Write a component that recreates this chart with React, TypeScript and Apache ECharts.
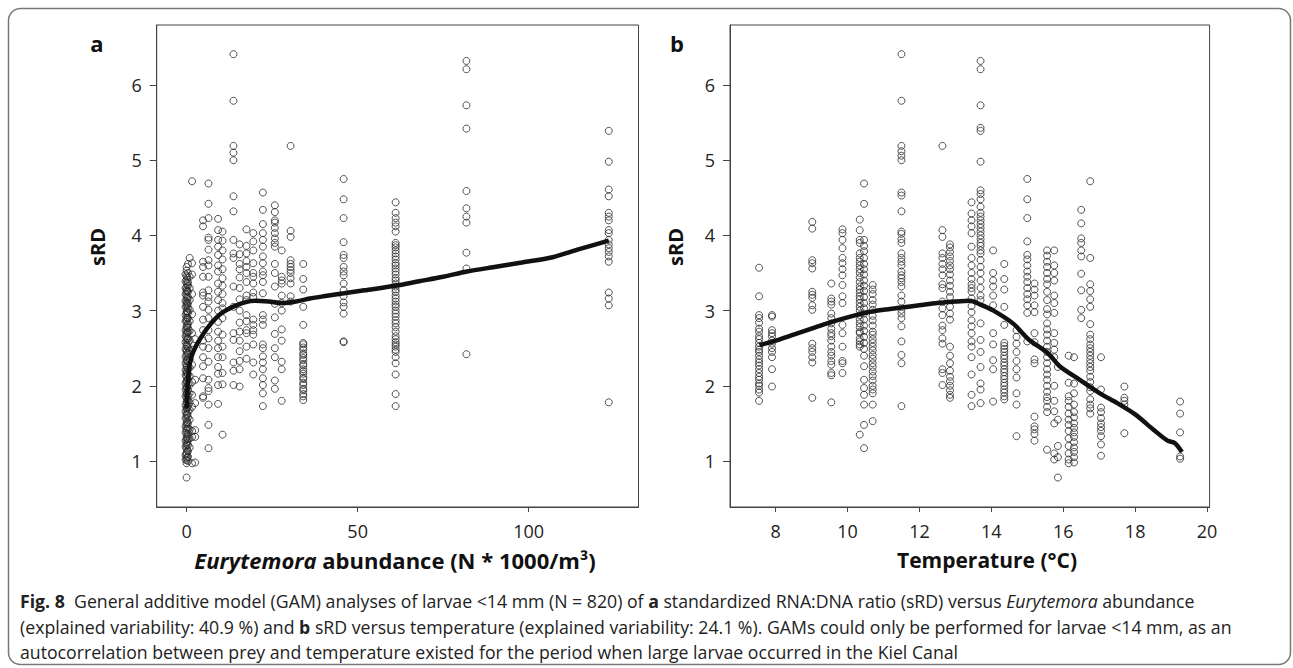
import React, { useEffect, useRef } from "react";
import * as echarts from "echarts";

// ---------- Panel a: sRD vs Eurytemora abundance ----------
const abundanceColumns = [-0.3, 0, 0.25, 0.4, 0.9, 1.6, 2.5, 4.8, 6.4, 9.2, 10.5, 13.7, 15.5, 17.5, 19.5, 22.3, 25.8, 27.8, 30.4, 34.1, 45.9, 61.1, 81.8, 123.4];
const srdByAbundance = [
  [3.48, 3.39, 3.3, 3.22, 3.13, 3.05, 2.94, 2.86, 2.74, 2.66, 2.58, 2.49, 2.39, 2.3, 2.21, 2.14, 2.03, 1.95, 1.86, 1.74, 1.66, 1.57, 1.46, 1.38, 1.27, 1.19, 1.08, 1.02],
  [3.58, 3.53, 3.46, 3.41, 3.37, 3.31, 3.27, 3.25, 3.2, 3.17, 3.11, 3.09, 3.04, 2.99, 2.97, 2.91, 2.88, 2.85, 2.79, 2.77, 2.71, 2.69, 2.64, 2.61, 2.55, 2.53, 2.47, 2.45, 2.41, 2.35, 2.33, 2.27, 2.25, 2.19, 2.17, 2.12, 2.07, 2.05, 1.99, 1.97, 1.91, 1.89, 1.84, 1.79, 1.77, 1.71, 1.69, 1.63, 1.61, 1.56, 1.51, 1.49, 1.43, 1.41, 1.36, 1.31, 1.29, 1.23, 1.21, 1.16, 1.11, 1.09, 1.04, 1.01, 0.97, 0.78],
  [3.44, 3.35, 3.26, 3.15, 3.07, 2.99, 2.9, 2.81, 2.72, 2.62, 2.52, 2.43, 2.34, 2.24, 2.16, 2.08, 1.98, 1.9, 1.82, 1.71, 1.62, 1.52, 1.45, 1.33, 1.25, 1.14, 1.05],
  [3.62, 3.5, 3.38, 3.33, 3.25, 3.18, 3.1, 3.03, 2.97, 2.9, 2.83, 2.77, 2.71, 2.63, 2.57, 2.5, 2.44, 2.37, 2.31, 2.22, 2.15, 2.09, 2.02, 1.94, 1.87, 1.8, 1.73, 1.66, 1.58, 1.5, 1.43, 1.36, 1.29, 1.21, 1.13, 1.06, 1.0],
  [3.7, 3.45, 3.3, 3.14, 3.01, 2.86, 2.73, 2.6, 2.47, 2.35, 2.24, 2.13, 2.01, 1.9, 1.78, 1.68, 1.55, 1.42, 1.3, 1.18],
  [4.72, 3.63, 3.48, 3.22, 2.95, 2.7, 2.48, 2.28, 2.05, 1.88, 1.72, 1.4, 1.32, 0.97],
  [2.62, 2.08, 1.77, 1.41, 1.32, 0.98],
  [4.2, 4.12, 3.65, 3.58, 3.45, 3.24, 3.2, 3.05, 2.88, 2.74, 2.6, 2.52, 2.38, 2.26, 2.1, 1.86, 1.84],
  [4.69, 4.42, 4.23, 3.97, 3.94, 3.81, 3.67, 3.6, 3.45, 3.27, 3.18, 3.12, 3.01, 2.9, 2.74, 2.63, 2.5, 2.32, 2.08, 1.97, 1.93, 1.75, 1.48, 1.17],
  [4.22, 4.07, 3.94, 3.85, 3.74, 3.6, 3.52, 3.36, 3.25, 3.14, 3.0, 2.85, 2.72, 2.6, 2.5, 2.38, 2.25, 2.16, 2.01, 1.76],
  [4.05, 3.93, 3.8, 3.68, 3.55, 3.43, 3.33, 3.22, 3.1, 3.03, 2.9, 2.68, 2.52, 2.38, 2.17, 2.02, 1.35],
  [6.41, 5.79, 5.19, 5.1, 5.0, 4.52, 4.32, 3.94, 3.76, 3.7, 3.32, 3.05, 2.7, 2.61, 2.31, 2.2, 2.01],
  [3.88, 3.75, 3.62, 3.55, 3.44, 3.3, 3.15, 3.0, 2.84, 2.72, 2.6, 2.46, 2.33, 2.22, 1.99],
  [4.08, 3.86, 3.76, 3.66, 3.58, 3.5, 3.38, 3.2, 3.14, 2.94, 2.86, 2.74, 2.7, 2.52, 2.36],
  [4.03, 3.92, 3.8, 3.63, 3.5, 3.45, 3.36, 3.24, 3.18, 2.88, 2.81, 2.74, 2.68, 2.55, 2.31, 2.15],
  [4.57, 4.34, 4.15, 4.03, 3.94, 3.85, 3.72, 3.63, 3.52, 3.47, 3.38, 3.23, 2.94, 2.88, 2.81, 2.55, 2.5, 2.39, 2.31, 2.22, 2.1, 2.01, 1.9, 1.73],
  [4.4, 4.31, 4.2, 4.17, 4.1, 4.03, 3.96, 3.9, 3.85, 3.62, 3.5, 3.32, 3.09, 2.91, 2.69, 2.5, 2.38, 2.07, 1.96],
  [3.8, 3.45, 3.4, 3.36, 3.2, 3.1, 3.0, 2.75, 2.6, 2.32, 2.22, 1.8],
  [5.19, 4.06, 3.98, 3.67, 3.62, 3.58, 3.54, 3.5, 3.43, 3.36, 3.19, 3.12],
  [3.62, 3.42, 3.28, 3.05, 2.81, 2.57, 2.55, 2.51, 2.48, 2.43, 2.41, 2.37, 2.34, 2.29, 2.27, 2.22, 2.19, 2.16, 2.11, 2.09, 2.04, 2.01, 1.96, 1.94, 1.89, 1.86, 1.81],
  [4.75, 4.48, 4.23, 3.91, 3.74, 3.7, 3.58, 3.52, 3.47, 3.36, 3.27, 3.19, 3.11, 3.05, 2.96, 2.59, 2.58],
  [4.44, 4.3, 4.23, 4.17, 4.12, 4.05, 3.9, 3.87, 3.84, 3.8, 3.76, 3.72, 3.68, 3.63, 3.6, 3.56, 3.52, 3.48, 3.43, 3.4, 3.36, 3.32, 3.28, 3.25, 3.2, 3.16, 3.12, 3.08, 3.05, 3.0, 2.96, 2.92, 2.87, 2.83, 2.78, 2.72, 2.66, 2.62, 2.58, 2.55, 2.52, 2.48, 2.45, 2.38, 2.3, 2.15, 1.89, 1.73],
  [6.32, 6.21, 5.73, 5.42, 4.59, 4.36, 4.25, 4.17, 3.77, 3.56, 2.42],
  [5.39, 4.98, 4.61, 4.52, 4.3, 4.25, 4.2, 4.07, 4.03, 3.94, 3.88, 3.83, 3.78, 3.72, 3.65, 3.24, 3.16, 3.07, 1.78],
];
const gamAbundanceX = [0, 0.3, 0.8, 1.5, 3, 5, 7, 9, 11, 14, 17, 20, 24, 28, 32, 36, 40, 46, 52, 61, 68, 75, 82, 90, 98, 107, 115, 123.4];
const gamAbundanceY = [1.7, 2.0, 2.25, 2.4, 2.55, 2.7, 2.82, 2.92, 2.99, 3.06, 3.11, 3.13, 3.12, 3.1, 3.12, 3.16, 3.19, 3.23, 3.27, 3.33, 3.39, 3.45, 3.52, 3.58, 3.64, 3.71, 3.82, 3.93];
const abundanceTicks = [0, 50, 100];

// ---------- Panel b: sRD vs temperature ----------
const temperatureColumns = [7.54, 7.9, 9.02, 9.55, 9.86, 10.34, 10.46, 10.7, 11.5, 12.64, 12.85, 13.45, 13.7, 14.05, 14.36, 14.7, 15.0, 15.2, 15.55, 15.75, 15.85, 16.15, 16.3, 16.5, 16.75, 17.05, 17.7, 19.25];
const srdByTemperature = [
  [3.57, 3.19, 2.94, 2.9, 2.84, 2.76, 2.72, 2.66, 2.62, 2.57, 2.52, 2.48, 2.45, 2.4, 2.35, 2.31, 2.27, 2.22, 2.17, 2.12, 2.08, 2.03, 2.0, 1.95, 1.91, 1.8],
  [2.94, 2.92, 2.74, 2.7, 2.66, 2.6, 2.56, 2.5, 2.45, 2.38, 2.22, 1.99],
  [4.18, 4.09, 3.67, 3.63, 3.56, 3.25, 3.21, 3.17, 3.07, 3.01, 2.56, 2.5, 2.45, 2.38, 2.31, 1.84],
  [3.36, 3.16, 3.12, 3.08, 2.96, 2.9, 2.83, 2.76, 2.7, 2.66, 2.6, 2.52, 2.45, 2.4, 2.33, 2.28, 2.17, 2.14, 1.78],
  [4.08, 4.03, 3.94, 3.83, 3.7, 3.63, 3.55, 3.47, 3.34, 3.19, 3.1, 2.81, 2.7, 2.52, 2.33, 2.3, 2.17],
  [4.21, 4.07, 3.94, 3.9, 3.76, 3.7, 3.65, 3.6, 3.55, 3.5, 3.44, 3.38, 3.32, 3.28, 3.24, 3.19, 3.15, 3.1, 3.05, 3.0, 2.94, 2.88, 2.83, 2.78, 2.72, 2.7, 2.63, 2.59, 2.55, 2.52, 1.35],
  [4.69, 4.42, 3.94, 3.86, 3.79, 3.7, 3.62, 3.55, 3.48, 3.4, 3.33, 3.26, 3.18, 3.1, 3.03, 2.96, 2.88, 2.8, 2.73, 2.65, 2.57, 2.49, 2.4, 2.26, 2.08, 1.97, 1.88, 1.75, 1.48, 1.17],
  [3.34, 3.28, 3.22, 3.14, 3.08, 3.01, 2.93, 2.87, 2.8, 2.72, 2.68, 2.62, 2.57, 2.52, 2.47, 2.41, 2.36, 2.3, 2.25, 2.19, 2.13, 2.07, 2.0, 1.95, 1.9, 1.75, 1.53],
  [6.41, 5.79, 5.19, 5.12, 5.06, 5.0, 4.57, 4.53, 4.32, 4.05, 4.02, 3.95, 3.9, 3.76, 3.7, 3.65, 3.6, 3.52, 3.47, 3.43, 3.38, 3.32, 3.2, 3.12, 3.01, 2.96, 2.9, 2.79, 2.59, 2.41, 2.3, 1.73],
  [5.19, 4.07, 3.98, 3.76, 3.7, 3.62, 3.55, 3.47, 3.35, 3.3, 3.12, 3.03, 2.94, 2.8, 2.74, 2.63, 2.56, 2.22, 2.17, 2.01],
  [3.88, 3.84, 3.78, 3.72, 3.66, 3.6, 3.55, 3.48, 3.4, 3.33, 3.25, 3.18, 3.05, 2.96, 2.88, 2.52, 2.4, 2.3, 2.2, 2.12, 2.06, 2.0, 1.94, 1.88, 1.84],
  [4.44, 4.29, 4.2, 4.12, 4.03, 3.85, 3.7, 3.6, 3.5, 3.42, 3.35, 3.3, 3.25, 3.16, 3.06, 2.98, 2.87, 2.79, 2.7, 2.59, 2.52, 2.38, 2.15, 1.88, 1.73],
  [6.32, 6.21, 5.73, 5.43, 5.39, 4.98, 4.6, 4.55, 4.48, 4.38, 4.3, 4.25, 4.2, 4.15, 4.1, 4.05, 4.0, 3.95, 3.9, 3.86, 3.8, 3.76, 3.67, 3.58, 3.5, 3.4, 3.3, 3.2, 3.14, 2.83, 2.61, 2.45, 2.25, 2.03, 1.95, 1.77],
  [3.8, 3.5, 3.4, 3.32, 3.2, 3.07, 2.7, 2.55, 2.34, 2.22, 1.79],
  [3.62, 3.42, 3.28, 3.05, 2.81, 2.57, 2.53, 2.49, 2.45, 2.4, 2.36, 2.31, 2.27, 2.22, 2.18, 2.13, 2.09, 2.04, 2.0, 1.95, 1.91, 1.86, 1.82],
  [2.74, 2.65, 2.56, 2.45, 2.33, 2.22, 2.11, 1.9, 1.75, 1.33],
  [4.75, 4.48, 4.23, 3.92, 3.74, 3.68, 3.6, 3.52, 3.45, 3.38, 3.3, 3.22, 3.15, 3.07, 2.97, 2.59],
  [3.36, 3.28, 3.2, 3.07, 2.98, 2.7, 2.58, 2.35, 2.3, 1.59, 1.46, 1.42, 1.36, 1.27],
  [3.8, 3.73, 3.65, 3.58, 3.5, 3.42, 3.35, 3.25, 3.14, 3.02, 2.95, 2.83, 2.75, 2.68, 2.6, 2.52, 2.45, 2.38, 2.3, 2.22, 2.15, 2.08, 2.0, 1.92, 1.85, 1.8, 1.72, 1.65, 1.15],
  [3.8, 3.6, 3.5, 3.4, 3.2, 3.1, 2.97, 2.7, 2.57, 2.48, 2.38, 2.0, 1.8, 1.66, 1.5, 1.1, 1.02],
  [2.25, 1.55, 1.2, 1.05, 0.78],
  [2.4, 2.04, 1.86, 1.8, 1.72, 1.63, 1.55, 1.48, 1.4, 1.3, 1.2, 1.1, 1.02, 0.97],
  [2.38, 2.03, 1.9, 1.75, 1.65, 1.58, 1.5, 1.44, 1.38, 1.32, 1.25, 1.18, 1.12, 1.05, 0.98],
  [4.34, 4.16, 3.96, 3.9, 3.8, 3.72, 3.49, 3.27, 3.01, 2.9],
  [4.72, 3.7, 3.35, 3.26, 3.15, 3.05, 2.82, 2.68, 2.62, 2.55, 2.5, 2.45, 2.4, 2.35, 2.3, 2.25, 2.2, 2.12, 2.05, 1.98, 1.93, 1.82, 1.75, 1.7, 1.63],
  [2.38, 1.95, 1.71, 1.65, 1.57, 1.5, 1.45, 1.4, 1.33, 1.22, 1.07],
  [1.99, 1.84, 1.8, 1.75, 1.37],
  [1.79, 1.63, 1.38, 1.06, 1.03],
];
const gamTemperatureX = [7.55, 8, 8.5, 9, 9.5, 10, 10.5, 11, 11.5, 12, 12.5, 13, 13.4, 13.7, 14.06, 14.6, 15.03, 15.58, 15.9, 16.46, 17.02, 17.5, 18.0, 18.5, 18.9, 19.1, 19.3];
const gamTemperatureY = [2.54, 2.6, 2.68, 2.76, 2.84, 2.91, 2.97, 3.01, 3.04, 3.07, 3.1, 3.12, 3.13, 3.08, 3.0, 2.83, 2.62, 2.43, 2.26, 2.08, 1.9, 1.77, 1.62, 1.42, 1.27, 1.24, 1.12];
const temperatureTicks = [8, 10, 12, 14, 16, 18, 20];

const srdTicks = [1, 2, 3, 4, 5, 6];

function toPoints(xs: number[], cols: number[][]): number[][] {
  const out: number[][] = [];
  xs.forEach((x, i) => cols[i].forEach((y) => out.push([x, y])));
  return out;
}
function zip(xs: number[], ys: number[]): number[][] {
  return xs.map((x, i) => [x, ys[i]]);
}

const FONT = "'Open Sans', 'Noto Sans', sans-serif";
const AXIS_COLOR = "#444";

function xAxisCfg(gridIndex: number, min: number, max: number, ticks: number[]) {
  return {
    type: "value",
    gridIndex,
    min,
    max,
    axisLine: { show: true, onZero: false, lineStyle: { color: AXIS_COLOR, width: 1 } },
    axisTick: { show: true, length: 5, customValues: ticks, lineStyle: { color: AXIS_COLOR } },
    axisLabel: { show: true, customValues: ticks, margin: 15, fontSize: 18, fontFamily: FONT, color: "#222" },
    splitLine: { show: false },
  };
}
function yAxisCfg(gridIndex: number) {
  return {
    type: "value",
    gridIndex,
    min: 0.388,
    max: 6.798,
    axisLine: { show: true, onZero: false, lineStyle: { color: AXIS_COLOR, width: 1 } },
    axisTick: { show: true, length: 7, customValues: srdTicks, lineStyle: { color: AXIS_COLOR } },
    axisLabel: { show: true, customValues: srdTicks, margin: 15, fontSize: 18, fontFamily: FONT, color: "#222" },
    splitLine: { show: false },
  };
}

const scatterStyle = {
  symbol: "circle",
  symbolSize: 7,
  itemStyle: { color: "transparent", borderColor: "#2a2a2a", borderWidth: 1 },
  emphasis: { disabled: true },
};

export default function App() {
  const ref = useRef<HTMLDivElement>(null);
  useEffect(() => {
    if (!ref.current) return;
    const chart = echarts.init(ref.current, null, { renderer: "svg" });
    const capStyle = { fontSize: 17.7, fontFamily: FONT, fill: "#222" };
    chart.setOption({
      animation: false,
      backgroundColor: "#fff",
      grid: [
        { left: 156.7, top: 25, width: 481.8, height: 482, show: true, borderColor: AXIS_COLOR, borderWidth: 1, backgroundColor: "transparent" },
        { left: 730, top: 25, width: 479.6, height: 482, show: true, borderColor: AXIS_COLOR, borderWidth: 1, backgroundColor: "transparent" },
      ],
      xAxis: [xAxisCfg(0, -8.74, 132.1, abundanceTicks), xAxisCfg(1, 6.732, 20.07, temperatureTicks)],
      yAxis: [yAxisCfg(0), yAxisCfg(1)],
      series: [
        { type: "scatter", xAxisIndex: 0, yAxisIndex: 0, data: toPoints(abundanceColumns, srdByAbundance), ...scatterStyle },
        { type: "line", xAxisIndex: 0, yAxisIndex: 0, data: zip(gamAbundanceX, gamAbundanceY), smooth: 0.3, showSymbol: false, lineStyle: { color: "#111", width: 4.5 }, z: 5 },
        { type: "scatter", xAxisIndex: 1, yAxisIndex: 1, data: toPoints(temperatureColumns, srdByTemperature), ...scatterStyle },
        { type: "line", xAxisIndex: 1, yAxisIndex: 1, data: zip(gamTemperatureX, gamTemperatureY), smooth: 0.3, showSymbol: false, lineStyle: { color: "#111", width: 4.5 }, z: 5 },
      ],
      graphic: [
        { type: "rect", shape: { x: 8.5, y: 8.5, width: 1282, height: 656, r: 12 }, style: { fill: "none", stroke: "#777", lineWidth: 1.5 }, silent: true },
        { type: "text", x: 97, y: 43, style: { text: "a", fontSize: 22, fontWeight: "bold", fontFamily: FONT, fill: "#111", align: "center", verticalAlign: "middle" } },
        { type: "text", x: 677, y: 43, style: { text: "b", fontSize: 22, fontWeight: "bold", fontFamily: FONT, fill: "#111", align: "center", verticalAlign: "middle" } },
        { type: "text", x: 97, y: 247, rotation: Math.PI / 2, style: { text: "sRD", fontSize: 20, fontWeight: "bold", fontFamily: FONT, fill: "#111", align: "center", verticalAlign: "middle" } },
        { type: "text", x: 675, y: 247, rotation: Math.PI / 2, style: { text: "sRD", fontSize: 20, fontWeight: "bold", fontFamily: FONT, fill: "#111", align: "center", verticalAlign: "middle" } },
        {
          type: "text", x: 395, y: 560,
          style: {
            text: "{i|Eurytemora}{b| abundance (N * 1000/m³)}",
            align: "center", verticalAlign: "middle", fontSize: 22, fontWeight: "bold", fontFamily: FONT, fill: "#111",
            rich: {
              i: { fontSize: 22, fontWeight: "bold", fontStyle: "italic", fontFamily: FONT, fill: "#111" },
              b: { fontSize: 22, fontWeight: "bold", fontFamily: FONT, fill: "#111" },
            },
          },
        },
        { type: "text", x: 987, y: 560, style: { text: "Temperature (°C)", fontSize: 21, fontWeight: "bold", fontFamily: FONT, fill: "#111", align: "center", verticalAlign: "middle" } },
        {
          type: "text", x: 20, y: 601,
          style: {
            text: "{fb|Fig. 8}{r|  General additive model (GAM) analyses of larvae <14 mm (N = 820) of }{fb|a}{r| standardized RNA:DNA ratio (sRD) versus }{it|Eurytemora}{r| abundance}",
            verticalAlign: "middle", ...capStyle,
            rich: {
              fb: { ...capStyle, fontWeight: "bold" },
              r: { ...capStyle },
              it: { ...capStyle, fontStyle: "italic" },
            },
          },
        },
        {
          type: "text", x: 20, y: 626.5,
          style: {
            text: "{r|(explained variability: 40.9 %) and }{fb|b}{r| sRD versus temperature (explained variability: 24.1 %). GAMs could only be performed for larvae <14 mm, as an}",
            verticalAlign: "middle", ...capStyle,
            rich: { fb: { ...capStyle, fontWeight: "bold" }, r: { ...capStyle } },
          },
        },
        {
          type: "text", x: 20, y: 652,
          style: {
            text: "autocorrelation between prey and temperature existed for the period when large larvae occurred in the Kiel Canal",
            verticalAlign: "middle", ...capStyle,
          },
        },
      ],
    });
    return () => chart.dispose();
  }, []);
  return <div ref={ref} style={{ position: "absolute", left: 0, top: 0, width: 1293, height: 668 }} />;
}
